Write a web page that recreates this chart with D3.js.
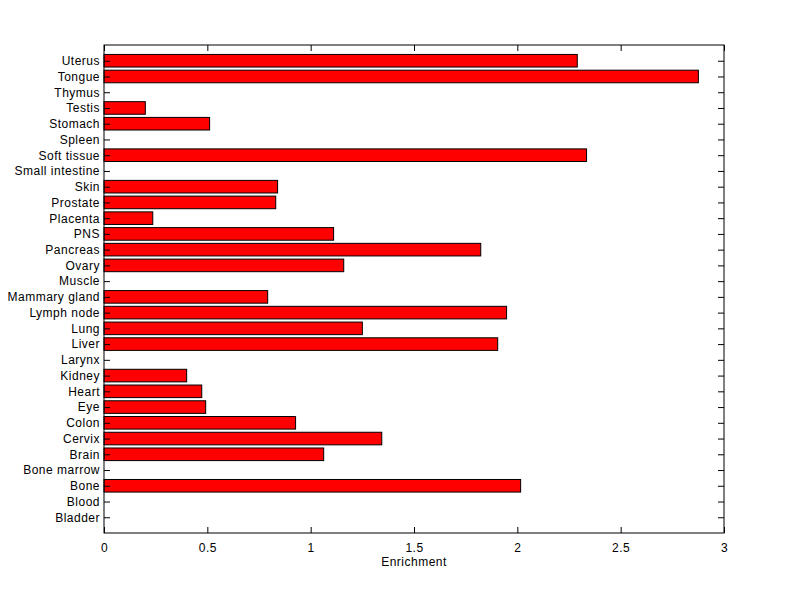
<!DOCTYPE html>
<html><head><meta charset="utf-8">
<script src="https://cdn.jsdelivr.net/npm/d3@7"></script>
<style>body{margin:0;background:#fff}svg{display:block}text{font-family:"Liberation Sans",Arial,sans-serif;font-size:12px;fill:#000;letter-spacing:0.5px}</style>
</head><body>
<script>
const categories = ["Bladder","Blood","Bone","Bone marrow","Brain","Cervix","Colon","Eye","Heart","Kidney","Larynx","Liver","Lung","Lymph node","Mammary gland","Muscle","Ovary","Pancreas","PNS","Placenta","Prostate","Skin","Small intestine","Soft tissue","Spleen","Stomach","Testis","Thymus","Tongue","Uterus"];
const enrichment = [0,0,2.016,0,1.063,1.344,0.927,0.492,0.473,0.40,0,1.905,1.25,1.948,0.792,0,1.160,1.823,1.111,0.236,0.831,0.840,0,2.335,0,0.511,0.20,0,2.876,2.29];
const xTicks = [0,0.5,1,1.5,2,2.5,3];
const xLabel = "Enrichment";

const W=800,H=599;
const L=104,R=724,T=45,B=533;
const svg=d3.select("body").append("svg").attr("width",W).attr("height",H);
const x=d3.scaleLinear().domain([0,3]).range([L,R]);
const y=d3.scaleLinear().domain([0,categories.length+1]).range([B,T]);
const bh=(y(0)-y(1))*0.8;

const rows=categories.map((c,i)=>({c,v:enrichment[i],pos:i+1})).filter(d=>d.v>0);
svg.append("g").selectAll("rect").data(rows).join("rect")
  .attr("x",x(0)).attr("y",d=>y(d.pos)-bh/2)
  .attr("width",d=>x(d.v)-x(0)).attr("height",bh)
  .attr("fill","#ff0000").attr("stroke","#000").attr("stroke-width",1);

svg.append("rect").attr("x",L).attr("y",T).attr("width",R-L).attr("height",B-T)
  .attr("fill","none").attr("stroke","#000").attr("stroke-width",1);

const tl=6;
const bx=svg.append("g").attr("transform",`translate(0,${B})`)
  .call(d3.axisBottom(x).tickValues(xTicks).tickFormat(d3.format("")).tickSizeInner(-tl).tickSizeOuter(0).tickPadding(10));
bx.select(".domain").remove();
const tx=svg.append("g").attr("transform",`translate(0,${T})`)
  .call(d3.axisTop(x).tickValues(xTicks).tickSizeInner(-tl).tickSizeOuter(0).tickFormat(""));
tx.select(".domain").remove();
const cats=d3.range(1,categories.length+1);
const ly=svg.append("g").attr("transform",`translate(${L},0)`)
  .call(d3.axisLeft(y).tickValues(cats).tickFormat(d=>categories[d-1]).tickSizeInner(-tl).tickSizeOuter(0).tickPadding(4));
ly.select(".domain").remove();
ly.selectAll("text").attr("x",-4);
const ry=svg.append("g").attr("transform",`translate(${R},0)`)
  .call(d3.axisRight(y).tickValues(cats).tickFormat("").tickSizeInner(-tl).tickSizeOuter(0));
ry.select(".domain").remove();
svg.selectAll(".tick line").attr("stroke","#000");
svg.selectAll(".tick text").style("font-family","'Liberation Sans',Arial,sans-serif").style("font-size","12px").attr("fill","#000");

svg.append("text").attr("x",(L+R)/2).attr("y",566).attr("text-anchor","middle").text(xLabel);
</script>
</body></html>
